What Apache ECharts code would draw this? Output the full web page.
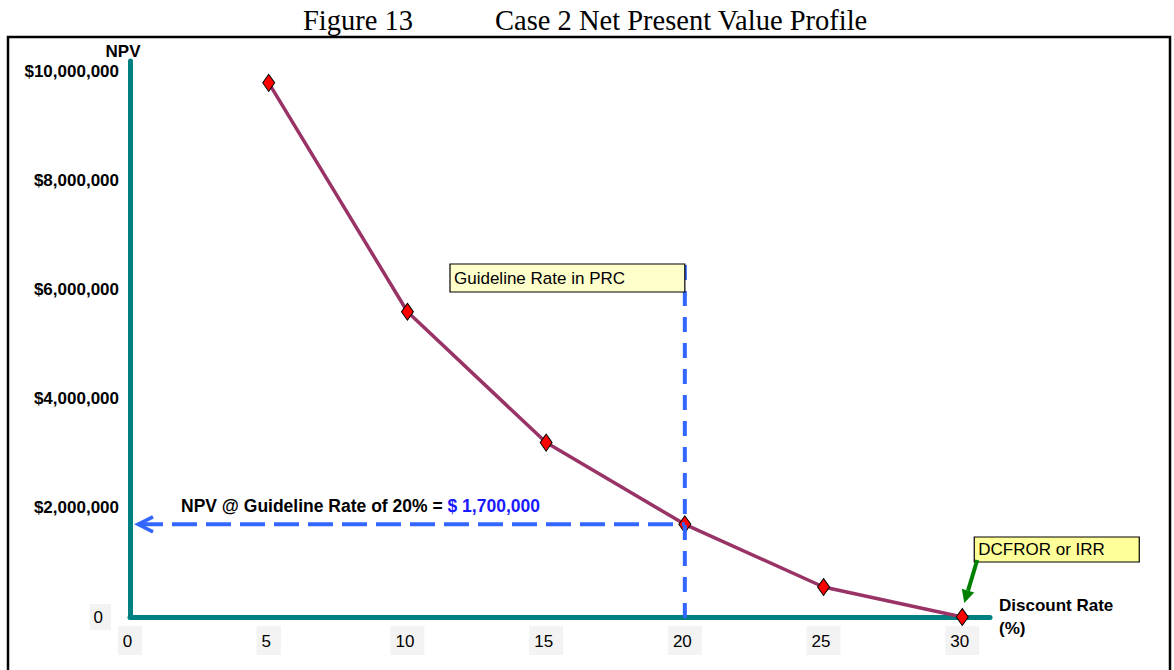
<!DOCTYPE html>
<html>
<head>
<meta charset="utf-8">
<script src="https://cdn.jsdelivr.net/npm/echarts@6/dist/echarts.min.js"></script>
<style>
  html, body { margin: 0; padding: 0; background: #fff; }
  #chart { width: 1174px; height: 670px; }
</style>
</head>
<body>
<div id="chart"></div>
<script>
// Discount rates (%) and the project's net present value at each rate
const discountRates = [5, 10, 15, 20, 25, 30];
const npvValues = [9800000, 5600000, 3200000, 1700000, 550000, 0];

// Tick labels shown on each axis
const rateTicks = [0, 5, 10, 15, 20, 25, 30];
const npvTicks = [0, 2000000, 4000000, 6000000, 8000000, 10000000];

// Guideline discount rate and the NPV it gives; the rate where NPV reaches zero
const guidelineRate = 20;
const guidelineNpv = 1700000;
const irrRate = 30;

const SANS = '"Liberation Sans", Arial, sans-serif';
const SERIF = '"Liberation Serif", "Times New Roman", serif';
const TEAL = '#008080';
const BLUE_LINE = '#3366ff';

const money = v => '$' + v.toLocaleString('en-US');

const chart = echarts.init(document.getElementById('chart'), null, { renderer: 'svg' });

const titleStyle = { fontFamily: SERIF, fontSize: 28.5, fontWeight: 'normal', color: '#000' };

chart.setOption({
  animation: false,
  backgroundColor: '#fff',
  title: [
    { text: 'Figure 13', left: 303, top: 6, padding: 0, textStyle: titleStyle },
    { text: 'Case 2 Net Present Value Profile', left: 495, top: 6, padding: 0, textStyle: titleStyle }
  ],
  grid: { left: 130, right: 184, top: 61, bottom: 53, containLabel: false, outerBoundsMode: 'none' },
  xAxis: {
    type: 'value', min: 0, max: 31, interval: 5,
    name: 'Discount Rate\n(%)', nameLocation: 'end', nameGap: 9,
    nameTextStyle: {
      fontFamily: SANS, fontSize: 17, fontWeight: 'bold', color: '#000',
      align: 'left', verticalAlign: 'middle', lineHeight: 23, padding: [8, 0, 0, 0]
    },
    axisLine: { show: true, onZero: false, lineStyle: { color: TEAL, width: 5, cap: 'round' } },
    axisTick: { show: false },
    splitLine: { show: false },
    axisLabel: {
      showMaxLabel: false,
      formatter: v => rateTicks.includes(v) ? String(v) : '',
      fontFamily: SANS, fontSize: 17, color: '#000',
      backgroundColor: '#f3f3f3', padding: [6, 10, 5, 5], lineHeight: 18, margin: 9
    }
  },
  yAxis: {
    type: 'value', min: 0, max: 10200000, interval: 2000000,
    name: 'NPV', nameLocation: 'end', nameGap: 1,
    nameTextStyle: {
      fontFamily: SANS, fontSize: 17, fontWeight: 'bold', color: '#000',
      align: 'center', padding: [0, 14, 0, 0]
    },
    axisLine: { show: true, onZero: false, lineStyle: { color: TEAL, width: 5, cap: 'round' } },
    axisTick: { show: false },
    splitLine: { show: false },
    axisLabel: {
      showMaxLabel: false,
      margin: 11,
      fontFamily: SANS, fontSize: 17, color: '#000',
      formatter: v => {
        if (!npvTicks.includes(v)) return '';
        return v === 0 ? '{zero|0}{gap| }' : '{b|' + money(v) + '}';
      },
      rich: {
        b: { fontFamily: SANS, fontSize: 17, fontWeight: 'bold', color: '#000' },
        zero: {
          fontFamily: SANS, fontSize: 17, color: '#000',
          backgroundColor: '#f3f3f3', padding: [5, 8, 4, 4], lineHeight: 18
        },
        gap: { width: 8 }
      }
    }
  },
  series: [{
    type: 'line',
    data: discountRates.map((r, i) => [r, npvValues[i]]),
    lineStyle: { color: '#993366', width: 3.5 },
    symbol: 'diamond',
    symbolSize: [12, 17],
    itemStyle: { color: '#ff0000', borderColor: '#000', borderWidth: 1 },
    clip: false,
    z: 3
  }]
});

// Annotations placed through the chart's own coordinate system
const px = (x, y) => chart.convertToPixel({ gridIndex: 0 }, [x, y]);
const [gx, gy] = px(guidelineRate, guidelineNpv);
const [ox, oy] = px(0, 0);
const [ix, iy] = px(irrRate, 0);

// Arrow from (x1, y1) pointing to (x2, y2) with a filled head
function arrow(x1, y1, x2, y2, color, width, headLen, headHalf) {
  const dx = x2 - x1, dy = y2 - y1, len = Math.hypot(dx, dy);
  const ux = dx / len, uy = dy / len;
  const bx = x2 - ux * headLen, by = y2 - uy * headLen;
  const nx = -uy * headHalf, ny = ux * headHalf;
  return [
    { type: 'line', z: 120, shape: { x1, y1, x2: bx, y2: by }, style: { stroke: color, lineWidth: width } },
    { type: 'polygon', z: 120, shape: { points: [[x2, y2], [bx + nx, by + ny], [bx - nx, by - ny]] }, style: { fill: color } }
  ];
}

const guideBoxLeft = 450, guideBoxTop = 264;
const irrBoxTop = 537;

chart.setOption({
  graphic: [
    // outer frame
    { type: 'rect', z: 50, shape: { x: 8, y: 37, width: 1162, height: 660 },
      style: { fill: 'none', stroke: '#000', lineWidth: 2.5 } },

    // guideline rate: vertical dashed line and its label box
    { type: 'line', z: 110, shape: { x1: gx, y1: guideBoxTop + 1, x2: gx, y2: oy + 10 },
      style: { stroke: BLUE_LINE, lineWidth: 4, lineDash: [15, 11] } },
    { type: 'rect', z: 115, shape: { x: guideBoxLeft, y: guideBoxTop, width: gx - guideBoxLeft, height: 28 },
      style: { fill: '#ffffcc', stroke: '#000', lineWidth: 1.2 } },
    { type: 'text', z: 116, x: guideBoxLeft + 4, y: guideBoxTop + 14,
      style: { text: 'Guideline Rate in PRC', font: '17px ' + SANS, fill: '#000', verticalAlign: 'middle' } },

    // NPV read at the guideline rate: dashed line back to the NPV axis
    { type: 'line', z: 110, shape: { x1: ox + 8, y1: gy, x2: gx, y2: gy },
      style: { stroke: BLUE_LINE, lineWidth: 4, lineDash: [25, 9] } },
    { type: 'polyline', z: 110, shape: { points: [[ox + 23, gy - 7.5], [ox + 8, gy], [ox + 23, gy + 7.5]] },
      style: { stroke: BLUE_LINE, lineWidth: 3.5, fill: 'none' } },
    { type: 'text', z: 116, x: 181, y: gy - 18,
      style: {
        text: '{k|NPV @ Guideline Rate of ' + guidelineRate + '% = }{v|$ ' + guidelineNpv.toLocaleString('en-US') + '}',
        verticalAlign: 'middle',
        rich: {
          k: { fontFamily: SANS, fontSize: 17.5, fontWeight: 'bold', fill: '#000' },
          v: { fontFamily: SANS, fontSize: 17.5, fontWeight: 'bold', fill: '#1a1aff' }
        }
      } },

    // internal rate of return callout
    { type: 'rect', z: 115, shape: { x: ix + 12, y: irrBoxTop, width: 165, height: 25 },
      style: { fill: '#ffff99', stroke: '#000', lineWidth: 1.2 } },
    { type: 'text', z: 116, x: ix + 16, y: irrBoxTop + 12.5,
      style: { text: 'DCFROR or IRR', font: '17px ' + SANS, fill: '#000', verticalAlign: 'middle' } },
    ...arrow(ix + 15, irrBoxTop + 23, ix + 2, iy - 14, '#008000', 4, 13, 6.5)
  ]
});
</script>
</body>
</html>
